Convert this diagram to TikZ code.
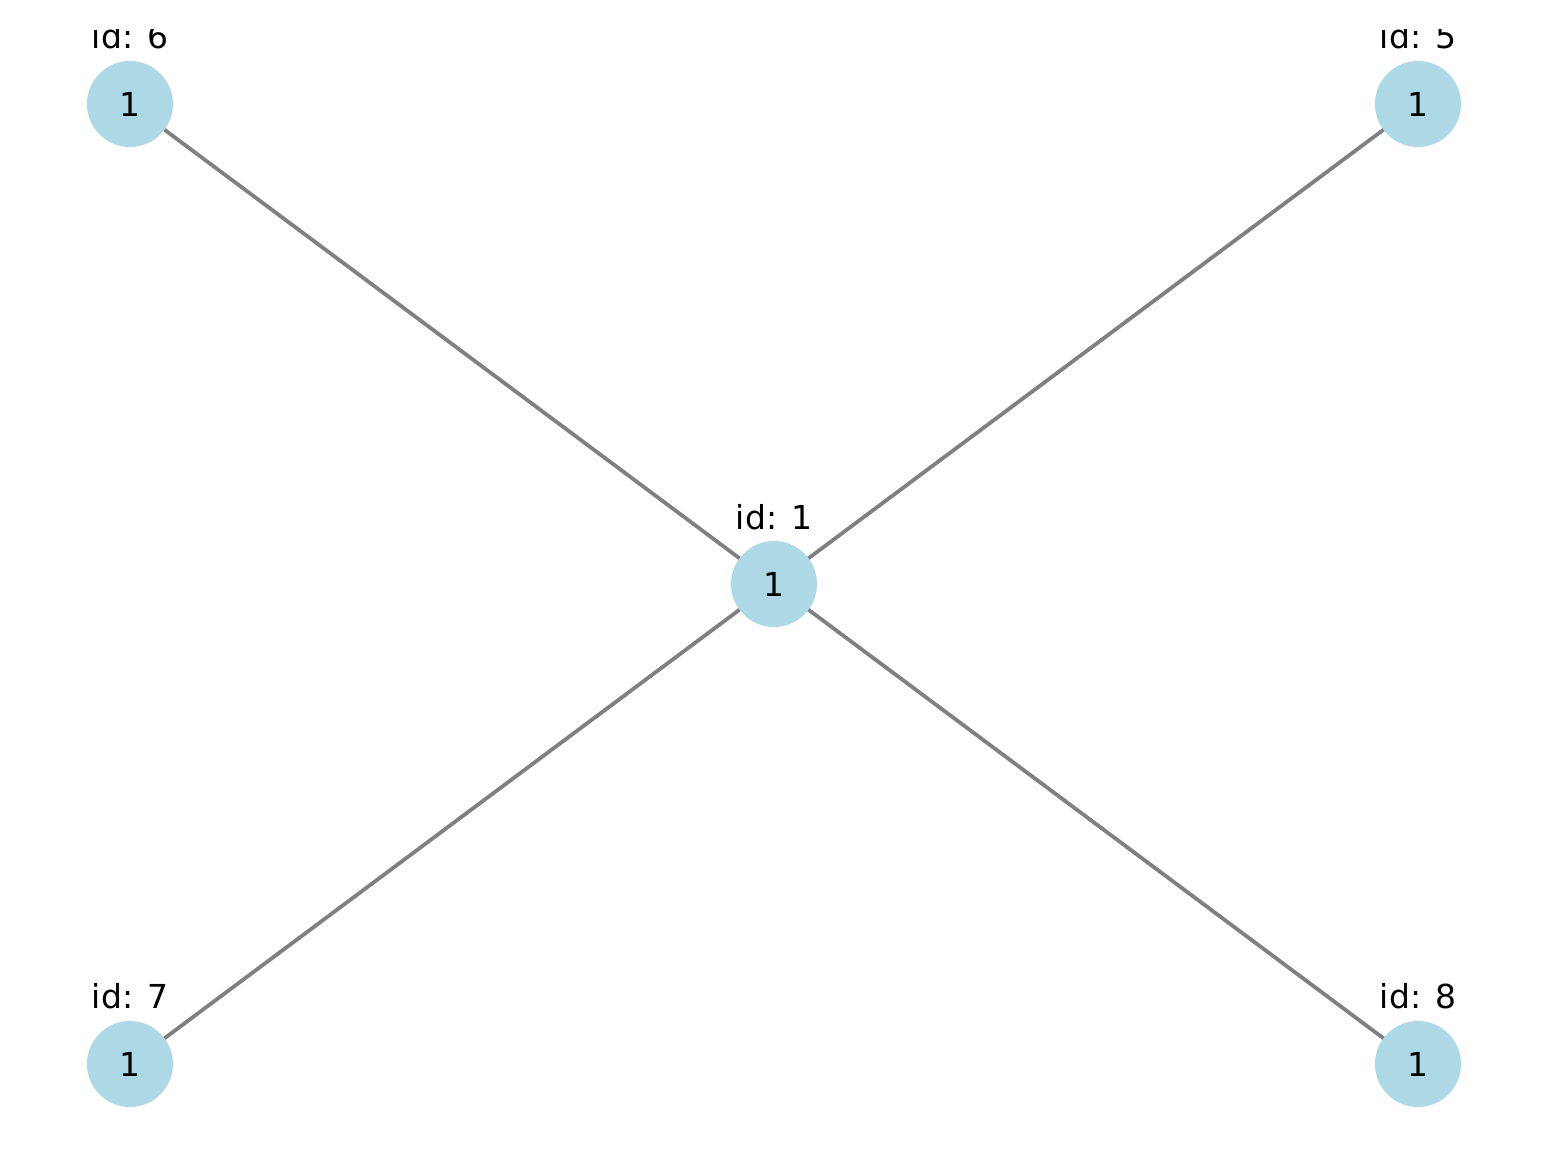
\documentclass[tikz,border=0pt]{standalone}
\usepackage{fontspec}
\setmainfont{DejaVu Sans}
\definecolor{nodeblue}{HTML}{ADD8E6}
\definecolor{edgegray}{HTML}{808080}
\begin{document}
\begin{tikzpicture}[x=0.5pt,y=-0.5pt,
  gnode/.style={circle,fill=nodeblue,minimum size=43pt,inner sep=0pt,font=\fontsize{16.5}{18}\selectfont},
  glabel/.style={anchor=base,inner sep=0pt,font=\fontsize{16.5}{18}\selectfont},
  gedge/.style={draw=edgegray,line width=1.9pt}]
\useasboundingbox (0,0) rectangle (1548,1168);
\clip (0,29) rectangle (1548,1168);
\coordinate (c1) at (774,584);
\coordinate (c6) at (130,104);
\coordinate (c5) at (1418,104);
\coordinate (c7) at (130,1064);
\coordinate (c8) at (1418,1064);
\draw[gedge] (c1) -- (c6);
\draw[gedge] (c1) -- (c5);
\draw[gedge] (c1) -- (c7);
\draw[gedge] (c1) -- (c8);
\node[gnode] (n1) at (c1) {1};
\node[gnode] (n6) at (c6) {1};
\node[gnode] (n5) at (c5) {1};
\node[gnode] (n7) at (c7) {1};
\node[gnode] (n8) at (c8) {1};
\node[glabel] (l1) at (774,529) {id: 1};
\node[glabel] (l6) at (130,48) {id: 6};
\node[glabel] (l5) at (1418,48) {id: 5};
\node[glabel] (l7) at (130,1008) {id: 7};
\node[glabel] (l8) at (1418,1008) {id: 8};
\end{tikzpicture}
\end{document}
